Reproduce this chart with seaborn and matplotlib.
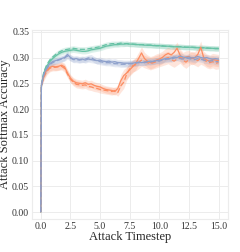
import numpy as np
import pandas as pd
import seaborn as sns
import matplotlib
matplotlib.use("Agg")
import matplotlib.pyplot as plt

# attack timesteps: start at 0, tiny step, then every 0.25
timesteps = [0.0, 0.05] + [0.25 * i for i in range(1, 61)]

green_solid = [0.0, 0.246,
    0.270, 0.283, 0.292, 0.298, 0.303, 0.307, 0.310, 0.312, 0.313, 0.314,
    0.315, 0.314, 0.313, 0.312, 0.312, 0.313, 0.315, 0.316, 0.317, 0.318,
    0.320, 0.322, 0.323, 0.324, 0.325, 0.325, 0.326, 0.326, 0.327, 0.326,
    0.326, 0.325, 0.325, 0.325, 0.324, 0.324, 0.324, 0.323, 0.323, 0.323,
    0.322, 0.322, 0.322, 0.321, 0.321, 0.321, 0.321, 0.320, 0.320, 0.320,
    0.320, 0.319, 0.319, 0.319, 0.319, 0.318, 0.318, 0.318, 0.317, 0.317]
green_dashed = [0.0, 0.246,
    0.272, 0.286, 0.295, 0.301, 0.306, 0.310, 0.313, 0.315, 0.316, 0.317,
    0.318, 0.317, 0.316, 0.316, 0.316, 0.317, 0.318, 0.319, 0.320, 0.321,
    0.323, 0.325, 0.326, 0.327, 0.327, 0.327, 0.328, 0.327, 0.327, 0.326,
    0.326, 0.326, 0.325, 0.325, 0.325, 0.324, 0.324, 0.324, 0.323, 0.323,
    0.323, 0.322, 0.322, 0.322, 0.321, 0.321, 0.321, 0.321, 0.320, 0.320,
    0.320, 0.320, 0.319, 0.319, 0.319, 0.319, 0.318, 0.318, 0.318, 0.318]

orange_solid = [0.0, 0.246,
    0.265, 0.276, 0.281, 0.283, 0.282, 0.283, 0.285, 0.282, 0.270, 0.260,
    0.254, 0.251, 0.250, 0.249, 0.251, 0.248, 0.249, 0.246, 0.244, 0.243,
    0.240, 0.238, 0.237, 0.236, 0.234, 0.240, 0.255, 0.265, 0.270, 0.276,
    0.282, 0.288, 0.298, 0.309, 0.298, 0.293, 0.290, 0.292, 0.295, 0.297,
    0.300, 0.305, 0.308, 0.305, 0.310, 0.318, 0.305, 0.298, 0.301, 0.302,
    0.298, 0.300, 0.306, 0.320, 0.300, 0.295, 0.293, 0.296, 0.295, 0.294]
orange_dashed = [0.0, 0.246,
    0.262, 0.273, 0.279, 0.281, 0.281, 0.282, 0.283, 0.279, 0.268, 0.258,
    0.252, 0.248, 0.247, 0.246, 0.247, 0.244, 0.243, 0.241, 0.240, 0.238,
    0.237, 0.236, 0.235, 0.234, 0.236, 0.232, 0.245, 0.252, 0.268, 0.278,
    0.284, 0.286, 0.290, 0.295, 0.292, 0.290, 0.288, 0.290, 0.292, 0.294,
    0.296, 0.298, 0.300, 0.296, 0.293, 0.297, 0.301, 0.295, 0.291, 0.296,
    0.300, 0.297, 0.294, 0.299, 0.296, 0.292, 0.290, 0.292, 0.289, 0.290]

blue_solid = [0.0, 0.246,
    0.268, 0.280, 0.288, 0.292, 0.294, 0.296, 0.298, 0.300, 0.306, 0.300,
    0.297, 0.298, 0.296, 0.297, 0.295, 0.297, 0.296, 0.295, 0.294, 0.295,
    0.293, 0.292, 0.293, 0.291, 0.292, 0.290, 0.290, 0.289, 0.289, 0.289,
    0.289, 0.290, 0.291, 0.290, 0.291, 0.292, 0.293, 0.292, 0.294, 0.295,
    0.296, 0.298, 0.297, 0.299, 0.301, 0.300, 0.303, 0.301, 0.300, 0.301,
    0.299, 0.300, 0.302, 0.300, 0.299, 0.300, 0.298, 0.297, 0.298, 0.297]
blue_dashed = [0.0, 0.246,
    0.266, 0.278, 0.286, 0.290, 0.293, 0.295, 0.297, 0.299, 0.303, 0.299,
    0.296, 0.296, 0.295, 0.296, 0.297, 0.299, 0.300, 0.296, 0.293, 0.292,
    0.291, 0.290, 0.290, 0.289, 0.288, 0.288, 0.287, 0.287, 0.287, 0.288,
    0.288, 0.289, 0.290, 0.291, 0.290, 0.292, 0.291, 0.293, 0.294, 0.293,
    0.295, 0.296, 0.298, 0.297, 0.299, 0.300, 0.298, 0.297, 0.299, 0.298,
    0.297, 0.296, 0.298, 0.297, 0.295, 0.294, 0.293, 0.294, 0.292, 0.292]

# half width of the shaded bands
green_band = [0.0, 0.003] + [0.005] * 60
blue_band = [0.0, 0.003] + [0.006] * 60
orange_band = [0.0, 0.003] + [0.007] * 26 + [0.012] * 34

methods = ["green", "orange", "blue"]
series = {
    ("green", "solid"): green_solid, ("green", "dashed"): green_dashed,
    ("orange", "solid"): orange_solid, ("orange", "dashed"): orange_dashed,
    ("blue", "solid"): blue_solid, ("blue", "dashed"): blue_dashed,
}
bands = {"green": green_band, "orange": orange_band, "blue": blue_band}

rows = []
for (m, v), vals in series.items():
    for t, y in zip(timesteps, vals):
        rows.append({"t": t, "acc": y, "method": m, "variant": v})
df = pd.DataFrame(rows)

sns.set_style("whitegrid", {"grid.color": "#ececec", "axes.edgecolor": "#ececec"})
plt.rcParams["font.family"] = ["Liberation Serif", "DejaVu Serif"]

pal = sns.color_palette("Set2", 3)
colors = dict(zip(methods, pal))

fig, ax = plt.subplots(figsize=(2.4, 2.52), dpi=100)
fig.subplots_adjust(left=0.133, right=0.95, top=0.881, bottom=0.131)

t_arr = np.array(timesteps)
for (m, v), vals in series.items():
    y = np.array(vals)
    b = np.array(bands[m])
    ax.fill_between(t_arr, y - b, y + b, color=colors[m], alpha=0.22, lw=0)

sns.lineplot(data=df, x="t", y="acc", hue="method", style="variant",
             hue_order=methods, style_order=["solid", "dashed"],
             palette=colors, dashes={"solid": "", "dashed": (4, 2)},
             linewidth=0.9, legend=False, ax=ax, estimator=None)

ax.set_xlim(-0.75, 15.8)
ax.set_ylim(-0.0135, 0.3535)
ax.set_xticks([0, 2.5, 5, 7.5, 10, 12.5, 15])
ax.set_yticks([0.0, 0.05, 0.10, 0.15, 0.20, 0.25, 0.30, 0.35])
ax.xaxis.set_major_formatter(matplotlib.ticker.FormatStrFormatter("%.1f"))
ax.yaxis.set_major_formatter(matplotlib.ticker.FormatStrFormatter("%.2f"))
ax.tick_params(labelsize=7, pad=2, colors="#333333", length=0)
ax.grid(lw=0.7)
ax.set_xlabel("Attack Timestep", fontsize=9, labelpad=0)
ax.set_ylabel("Attack Softmax Accuracy", fontsize=9, labelpad=0.5)

fig.savefig("out.png", dpi=100)
